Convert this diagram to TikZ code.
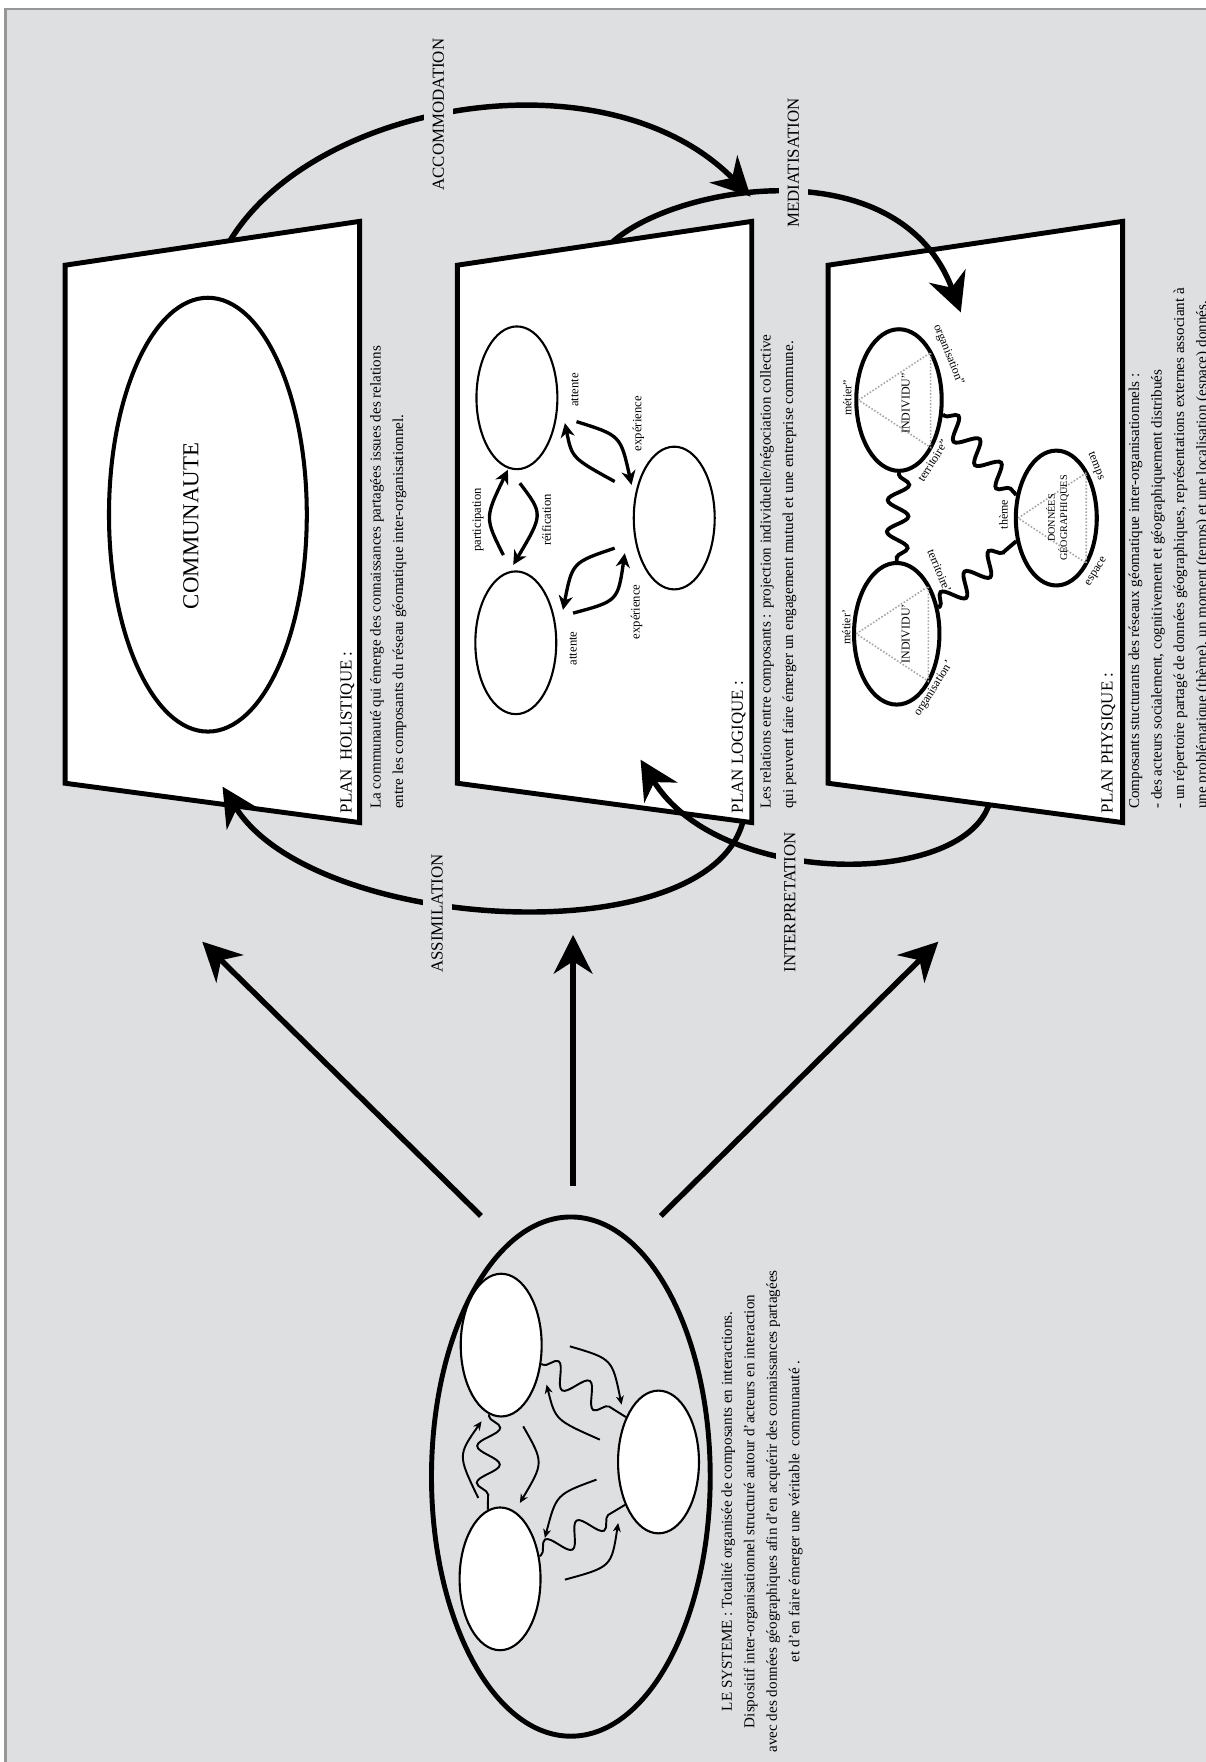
\documentclass[tikz,border=0pt]{standalone}
\usepackage{fontspec}
\setmainfont{Liberation Serif}
\usetikzlibrary{shapes.geometric, arrows.meta, calc, decorations.pathmorphing}

\definecolor{paper}{RGB}{222,223,225}
\definecolor{rim}{RGB}{150,150,150}
\newcommand{\su}[1]{#1*0.6396pt}

\begin{document}
\begin{tikzpicture}[x=0.02248cm, y=-0.02248cm,
    plane/.style={draw, line width=2.8pt, fill=white, line join=miter},
    blob/.style={ellipse, draw, fill=white, inner sep=0pt, line width=1.2pt, minimum width=\su{72}, minimum height=\su{127}},
    actor/.style={ellipse, draw, fill=white, inner sep=0pt, line width=2.3pt},
    bigflow/.style={line width=3.1pt, -{Stealth[length=22pt, width=22pt, inset=7pt]}},
    link/.style={line width=1.9pt, -{Stealth[length=8pt, width=8pt, inset=2.5pt]}},
    thinlink/.style={line width=1.1pt, -{Stealth[length=5pt, width=4.5pt, inset=1.5pt]}},
    wave/.style={decorate, decoration={snake, amplitude=6.5pt, segment length=21pt, pre length=1pt, post length=1pt}, line width=1.1pt},
    boldwave/.style={wave, line width=2.2pt, decoration={amplitude=6pt, segment length=18pt}},
    flowlabel/.style={rotate=90, fill=paper, inner xsep=2pt, inner ysep=5pt, font=\fontsize{9.6}{11}\selectfont},
    planlabel/.style={rotate=90, anchor=base west, inner sep=0pt, font=\fontsize{9.6}{11}\selectfont},
    caption/.style={rotate=90, anchor=north west, align=left, inner sep=0pt, font=\fontsize{8.6}{12.8}\selectfont},
    tag/.style={inner sep=0pt, font=\fontsize{6.8}{7}\selectfont},
    linktag/.style={rotate=90, inner sep=0pt, font=\fontsize{7.2}{8}\selectfont},
    corner/.style={gray!70, densely dotted, line width=0.9pt}
  ]

  % Page
  \useasboundingbox (0,0) rectangle (1073,1568);
  \fill[white] (0,0) rectangle (1073,1568);
  \fill[paper] (5,8) rectangle (1073,1568);
  \draw[rim, line width=1.6pt] (5,1568) -- (5,8) -- (1073,8);

  % The three planes
  \foreach \px/\nm in {58/hol, 407/log, 737/phy}
    \draw[plane] (\px,236) coordinate (\nm-tl) -- (\px+262,197) coordinate (\nm-tr)
      -- (\px+262,732) coordinate (\nm-br) -- (\px,697) coordinate (\nm-bl) -- cycle;

  % Plan holistique
  \node[actor, minimum width=\su{176}, minimum height=\su{386}] (comm) at (185,458) {};
  \node[rotate=90, font=\fontsize{13}{14}\selectfont] (comm-txt) at (170,468) {COMMUNAUTE};
  \node[planlabel] (hol-title) at (313,724) {PLAN~ HOLISTIQUE :};
  \node[caption] (hol-text) at (329,720) {La communauté qui émerge des connaissances partagées issues des relations\\
    entre les composants du réseau géomatique inter-organisationnel.};

  % Plan logique
  \node[blob] (lA) at (460,354) {};
  \node[blob] (lB) at (459,572) {};
  \node[blob] (lC) at (600,461) {};
  \draw[link] ($(lB)+(-11,-78)$) .. controls (431.3,460.9) .. ($(lA)+(-8,64)$);
  \draw[link] ($(lA)+(2.6,76)$) .. controls (483.5,457.5) .. ($(lB)+(-2.3,-69.3)$);
  \draw[link] ($(lA)+(53,21.2)$) .. controls (552.3,387.5) .. ($(lC)+(-38,-29.5)$);
  \draw[link] ($(lC)+(-53,-32.5)$) .. controls (509,407.6) .. ($(lA)+(42.7,22.5)$);
  \draw[link] ($(lC)+(-53,26.8)$) .. controls (509.3,500.5) .. ($(lB)+(42,-29.3)$);
  \draw[link] ($(lB)+(51,-26.4)$) .. controls (549.8,534.9) .. ($(lC)+(-44,31.3)$);
  \node[linktag] (t-part) at (425.5,462.6) {participation};
  \node[linktag] (t-reif) at (486.4,462.6) {réification};
  \node[linktag] (t-att1) at (511.6,347) {attente};
  \node[linktag] (t-exp1) at (568,377) {expérience};
  \node[linktag] (t-att2) at (510,577) {attente};
  \node[linktag] (t-exp2) at (566.4,544.5) {expérience};
  \node[planlabel] (log-title) at (661,724) {PLAN LOGIQUE :};
  \node[caption] (log-text) at (676,720) {Les relations entre composants : projection individuelle/négociation collective\\
    qui peuvent faire émerger un engagement mutuel et une entreprise commune.};

  % Plan physique
  \node[actor, minimum width=\su{76}, minimum height=\su{126}] (I2) at (800,356) {};
  \node[actor, minimum width=\su{76}, minimum height=\su{126}] (I1) at (798,564) {};
  \node[actor, minimum width=\su{72}, minimum height=\su{120}] (D) at (940,461) {};
  \draw[boldwave] (I2.south) -- (I1.north);
  \draw[boldwave] (I2.-18) -- (D.150);
  \draw[boldwave] (I1.32) -- (D.-150);
  \foreach \nd/\rx/\ry in {I2/38/63, I1/38/63, D/36/60}
    \draw[corner] ($(\nd)+(-\rx+2,0)$) -- ($(\nd)+(0.74*\rx,-0.67*\ry)$)
      -- ($(\nd)+(0.74*\rx,0.67*\ry)$) -- cycle;
  \node[tag, rotate=90] (met2) at ($(I2)+(-46,-2)$) {métier''};
  \node[tag, rotate=90] (ind2) at ($(I2)+(6,3)$) {INDIVIDU''};
  \node[tag, rotate=-68] (org2) at ($(I2)+(44,-40)$) {organisation''};
  \node[tag, rotate=58] (ter2) at ($(I2)+(30,54)$) {territoire''};
  \node[tag, rotate=90] (met1) at ($(I1)+(-45,-6)$) {métier'};
  \node[tag, rotate=90] (ind1) at ($(I1)+(8,0)$) {INDIVIDU'};
  \node[tag, rotate=-68] (ter1) at ($(I1)+(38,-56)$) {territoire'};
  \node[tag, rotate=58] (org1) at ($(I1)+(33,49)$) {organisation'};
  \node[tag, rotate=90] (theme) at ($(D)+(-47,-3)$) {thème};
  \node[tag, rotate=90, align=center, font=\fontsize{5.8}{7}\selectfont] (geo) at ($(D)+(1,0)$) {DONNÉES\\GÉOGRAPHIQUES};
  \node[tag, rotate=-68] (temps) at ($(D)+(35,-46)$) {temps};
  \node[tag, rotate=58] (espace) at ($(D)+(36,48)$) {espace};
  \node[planlabel] (phy-title) at (990,724) {PLAN PHYSIQUE :};
  \node[caption] (phy-text) at (1004,720) {Composants stucturants des réseaux géomatique inter-organisationnels :\\
    - des acteurs socialement, cognitivement et géographiquement distribués\\
    - un répertoire partagé de données géographiques, représentations externes associant à\\
    une problématique (thème), un moment (temps) et une localisation (espace) donnés.};

  % Le systeme
  \node[draw, ellipse, line width=2.8pt, inner sep=0pt, minimum width=\su{248}, minimum height=\su{462}] (sys) at (508,1314) {};
  \node[blob] (sA) at (446,1197) {};
  \node[blob] (sB) at (445,1405) {};
  \node[blob] (sC) at (586,1301) {};
  \draw[wave] (sA.-100) -- (sB.100);
  \draw[wave] (sA.-25) -- (sC.126);
  \draw[wave] (sB.30) -- (sC.-128);
  \draw[thinlink] ($(sB)+(-19.4,-72)$) .. controls (407.3,1295) .. ($(sA)+(-17.5,67.8)$);
  \draw[thinlink] ($(sA)+(19.6,72.3)$) .. controls (484,1301.5) .. ($(sB)+(17.6,-67.5)$);
  \draw[thinlink] ($(sA)+(61.1,1.1)$) .. controls (544.9,1209.2) .. ($(sC)+(-32.9,-51)$);
  \draw[thinlink] ($(sC)+(-52.2,-19.9)$) .. controls (494.2,1263.7) .. ($(sA)+(40.4,35.2)$);
  \draw[thinlink] ($(sC)+(-55.2,15.7)$) .. controls (495,1329.8) .. ($(sB)+(39.9,-36.4)$);
  \draw[thinlink] ($(sB)+(57.7,0.7)$) .. controls (544.1,1394.4) .. ($(sC)+(-35.9,54.3)$);
  \node[rotate=90, align=center, font=\fontsize{8.6}{12.8}\selectfont] (sys-text) at (678,1345)
    {LE SYSTEME : Totalité organisée de composants en interactions.\\
     Dispositif inter-organisationnel structuré autour d'acteurs en interaction\\
     avec des données géographiques afin d'en acquérir des connaissances partagées\\
     et d'en faire émerger une véritable~ communauté~.};

  % Arrows from the system
  \coordinate (sys-l) at (428,1082);
  \coordinate (sys-m) at (510,1055);
  \coordinate (sys-r) at (588,1082);
  \coordinate (to-hol) at (180,838);
  \coordinate (to-log) at (510,832);
  \coordinate (to-phy) at (835,838);
  \draw[bigflow] (sys-l) -- (to-hol);
  \draw[bigflow] (sys-m) -- (to-log);
  \draw[bigflow] (sys-r) -- (to-phy);

  % Cycles between the planes
  \coordinate (acc-end) at (668,175);
  \coordinate (med-end) at (855,278);
  \coordinate (ass-end) at (198,700);
  \coordinate (int-end) at (570,676);
  \draw[bigflow] ($(hol-tl)!0.56!(hol-tr)$) .. controls (280,90) and (540,45) .. (acc-end);
  \draw[bigflow] ($(log-tl)!0.527!(log-tr)$) .. controls (600,165) and (800,130) .. (med-end);
  \draw[bigflow] ($(log-bl)!0.97!(log-br)$) .. controls (630,850) and (280,830) .. (ass-end);
  \draw[bigflow] ($(phy-bl)!0.546!(phy-br)$) .. controls (855,790) and (640,790) .. (int-end);
  \node[flowlabel] (acc-lab) at (390,102) {ACCOMMODATION};
  \node[flowlabel] (med-lab) at (706,145) {MEDIATISATION};
  \node[flowlabel] (ass-lab) at (389,813) {ASSIMILATION};
  \node[flowlabel] (int-lab) at (703,803) {INTERPRETATION};

\end{tikzpicture}
\end{document}
